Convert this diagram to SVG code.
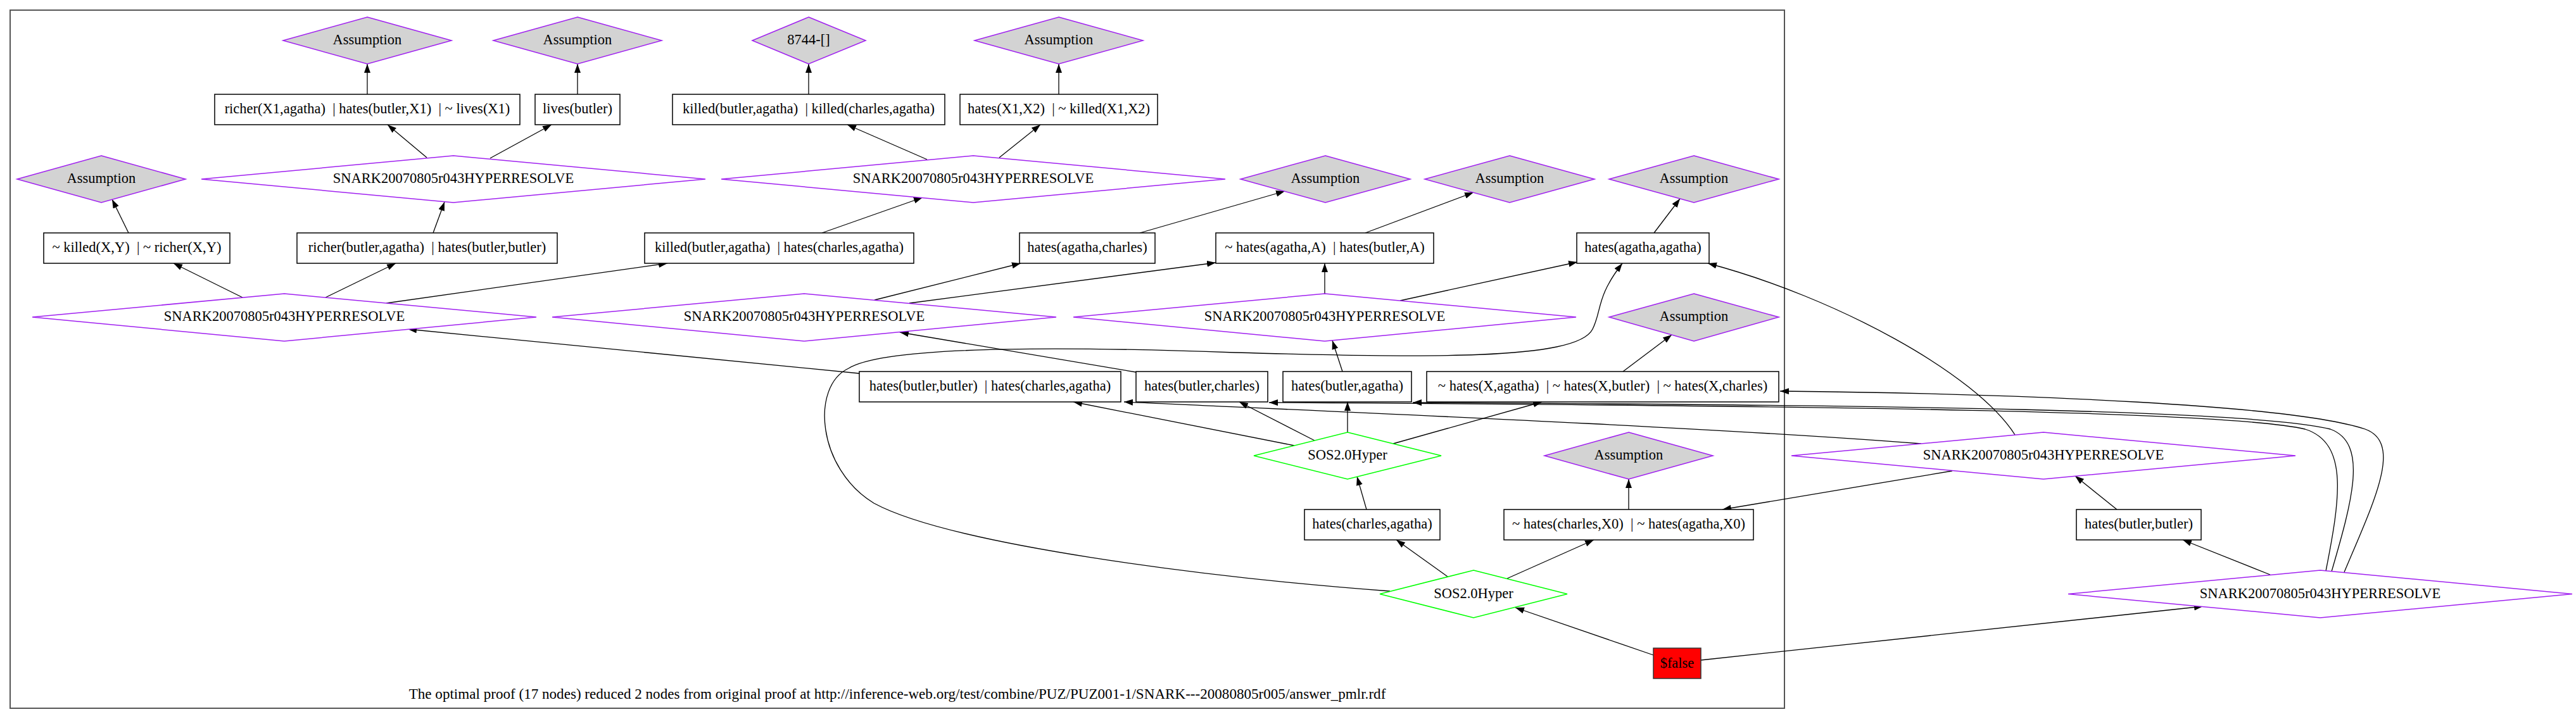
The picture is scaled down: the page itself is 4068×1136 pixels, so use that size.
<svg xmlns="http://www.w3.org/2000/svg" width="4068" height="1136" viewBox="0 0 4068 1136">
<style>
.bg{fill:#fff}
.frame{fill:none;stroke:#555;stroke-width:2}
.box{fill:#fff;stroke:#000;stroke-width:1.5}
.fal{fill:#f00;stroke:#333;stroke-width:1.5}
.asm{fill:#d3d3d3;stroke:#a020f0;stroke-width:1.5}
.hyp{fill:#fff;stroke:#a020f0;stroke-width:1.5}
.sos{fill:#fff;stroke:#00ff00;stroke-width:1.5}
text{font-family:"Liberation Serif","Times New Roman",serif;font-size:22.5px;text-anchor:middle;fill:#000;white-space:pre}
.cap{font-size:23.1px}
.e path{fill:none;stroke:#000;stroke-width:1.3}
</style>
<defs>
<marker id="ah" markerWidth="16" markerHeight="12" refX="14" refY="5" orient="auto" markerUnits="userSpaceOnUse"><path d="M0,0 L14,5 L0,10 z" fill="#000"/></marker>
</defs>
<rect class="bg" x="0" y="0" width="4068" height="1136"/>
<rect class="frame" x="16" y="16" width="2802" height="1103"/>
<text class="cap" x="1417" y="1104">The optimal proof (17 nodes) reduced 2 nodes from original proof at http://inference-web.org/test/combine/PUZ/PUZ001-1/SNARK---20080805r005/answer_pmlr.rdf</text>

<g class="e" id="edges">
<path d="M580,149 L580,101" marker-end="url(#ah)"/>
<path d="M912,149 L912,101" marker-end="url(#ah)"/>
<path d="M1277,149 L1277,101" marker-end="url(#ah)"/>
<path d="M1672,149 L1672,101" marker-end="url(#ah)"/>
<path d="M674,249 L612,197" marker-end="url(#ah)"/>
<path d="M774,250 L871,197" marker-end="url(#ah)"/>
<path d="M1464,252 L1338,197" marker-end="url(#ah)"/>
<path d="M1578,249 L1643,197" marker-end="url(#ah)"/>
<path d="M203,368 L177,315" marker-end="url(#ah)"/>
<path d="M684,368 L702,319" marker-end="url(#ah)"/>
<path d="M1298,368 L1457,312" marker-end="url(#ah)"/>
<path d="M1800,368 L2029,302" marker-end="url(#ah)"/>
<path d="M2156,368 L2327,304" marker-end="url(#ah)"/>
<path d="M2612,368 L2653,314" marker-end="url(#ah)"/>
<path d="M383,470 L274,416" marker-end="url(#ah)"/>
<path d="M514,470 L625,416" marker-end="url(#ah)"/>
<path d="M610,479 L1054,416" marker-end="url(#ah)"/>
<path d="M1381,474 L1612,416" marker-end="url(#ah)"/>
<path d="M1436,479 L1920,415" marker-end="url(#ah)"/>
<path d="M2092,464 L2092,416" marker-end="url(#ah)"/>
<path d="M2211,475 L2491,414" marker-end="url(#ah)"/>
<path d="M1357,590 L644,520" marker-end="url(#ah)"/>
<path d="M1794,588 L1421,525" marker-end="url(#ah)"/>
<path d="M2120,587 L2104,538" marker-end="url(#ah)"/>
<path d="M2563,587 L2640,529" marker-end="url(#ah)"/>
<path d="M2044,704 L1695,635" marker-end="url(#ah)"/>
<path d="M2076,696 L1957,635" marker-end="url(#ah)"/>
<path d="M2128,683 L2128,635" marker-end="url(#ah)"/>
<path d="M2200,701 L2435,635" marker-end="url(#ah)"/>
<path d="M2158,805 L2143,753" marker-end="url(#ah)"/>
<path d="M2572,805 L2572,757" marker-end="url(#ah)"/>
<path d="M3182,687 C3120,590 2900,470 2697,416" marker-end="url(#ah)"/>
<path d="M3083,744 L2720,805" marker-end="url(#ah)"/>
<path d="M3343,805 L3277,752" marker-end="url(#ah)"/>
<path d="M3585,908 L3447,853" marker-end="url(#ah)"/>
<path d="M2611,1035 L2393,960" marker-end="url(#ah)"/>
<path d="M2686,1043 L3479,958" marker-end="url(#ah)"/>
<path d="M2286,911 L2205,853" marker-end="url(#ah)"/>
<path d="M2380,914 L2517,853" marker-end="url(#ah)"/>
<path d="M2195,934 C1900,912 1500,860 1380,795 C1290,740 1280,610 1340,582 C1400,545 1700,548 1950,557 C2250,565 2490,570 2515,520 C2530,490 2520,470 2562,416" marker-end="url(#ah)"/>
<path d="M3702,904 C3750,790 3795,700 3735,678 C3620,640 3200,622 2811,618" marker-end="url(#ah)"/>
<path d="M3682,903 C3715,790 3740,700 3680,678 C3560,648 3000,640 2231,636" marker-end="url(#ah)"/>
<path d="M3673,902 C3695,790 3710,700 3640,678 C3520,650 2900,641 2004,636" marker-end="url(#ah)"/>
<path d="M3034,701 C2700,675 2100,650 1775,635" marker-end="url(#ah)"/>
</g>

<g id="n_a1"><polygon class="asm" points="580,27 713,64 580,101 447,64"/><text x="580" y="70">Assumption</text></g>
<g id="n_a2"><polygon class="asm" points="912,27 1045,64 912,101 779,64"/><text x="912" y="70">Assumption</text></g>
<g id="n_8744"><polygon class="asm" points="1277,27 1367,64 1277,101 1188,64"/><text x="1277" y="70">8744-[]</text></g>
<g id="n_a3"><polygon class="asm" points="1672,27 1805,64 1672,101 1539,64"/><text x="1672" y="70">Assumption</text></g>

<g id="n_b1"><rect class="box" x="339" y="149" width="482" height="48"/><text x="580" y="179">richer(X1,agatha)  | hates(butler,X1)  | ~ lives(X1)</text></g>
<g id="n_b2"><rect class="box" x="845" y="149" width="134" height="48"/><text x="912" y="179">lives(butler)</text></g>
<g id="n_b3"><rect class="box" x="1062" y="149" width="430" height="48"/><text x="1277" y="179">killed(butler,agatha)  | killed(charles,agatha)</text></g>
<g id="n_b4"><rect class="box" x="1516" y="149" width="312" height="48"/><text x="1672" y="179">hates(X1,X2)  | ~ killed(X1,X2)</text></g>

<g id="n_a4"><polygon class="asm" points="160,246 293,283 160,320 27,283"/><text x="160" y="289">Assumption</text></g>
<g id="n_h1"><polygon class="hyp" points="716,246 1114,283 716,320 318,283"/><text x="716" y="289">SNARK20070805r043HYPERRESOLVE</text></g>
<g id="n_h2"><polygon class="hyp" points="1537,246 1935,283 1537,320 1139,283"/><text x="1537" y="289">SNARK20070805r043HYPERRESOLVE</text></g>
<g id="n_a5"><polygon class="asm" points="2093,246 2227,283 2093,320 1959,283"/><text x="2093" y="289">Assumption</text></g>
<g id="n_a6"><polygon class="asm" points="2384,246 2518,283 2384,320 2250,283"/><text x="2384" y="289">Assumption</text></g>
<g id="n_a7"><polygon class="asm" points="2675,246 2809,283 2675,320 2541,283"/><text x="2675" y="289">Assumption</text></g>

<g id="n_b5"><rect class="box" x="69" y="368" width="294" height="48"/><text x="216" y="398">~ killed(X,Y)  | ~ richer(X,Y)</text></g>
<g id="n_b6"><rect class="box" x="469" y="368" width="411" height="48"/><text x="674.5" y="398">richer(butler,agatha)  | hates(butler,butler)</text></g>
<g id="n_b7"><rect class="box" x="1018" y="368" width="425" height="48"/><text x="1230.5" y="398">killed(butler,agatha)  | hates(charles,agatha)</text></g>
<g id="n_b8"><rect class="box" x="1610" y="368" width="214" height="48"/><text x="1717" y="398">hates(agatha,charles)</text></g>
<g id="n_b9"><rect class="box" x="1920" y="368" width="344" height="48"/><text x="2092" y="398">~ hates(agatha,A)  | hates(butler,A)</text></g>
<g id="n_b10"><rect class="box" x="2490" y="368" width="209" height="48"/><text x="2594.5" y="398">hates(agatha,agatha)</text></g>

<g id="n_h3"><polygon class="hyp" points="449,464 847,501 449,539 51,501"/><text x="449" y="507">SNARK20070805r043HYPERRESOLVE</text></g>
<g id="n_h4"><polygon class="hyp" points="1270,464 1668,501 1270,539 872,501"/><text x="1270" y="507">SNARK20070805r043HYPERRESOLVE</text></g>
<g id="n_h5"><polygon class="hyp" points="2092,464 2489,501 2092,539 1695,501"/><text x="2092" y="507">SNARK20070805r043HYPERRESOLVE</text></g>
<g id="n_a8"><polygon class="asm" points="2675,464 2809,501 2675,539 2541,501"/><text x="2675" y="507">Assumption</text></g>

<g id="n_b11"><rect class="box" x="1357" y="587" width="413" height="48"/><text x="1563.5" y="617">hates(butler,butler)  | hates(charles,agatha)</text></g>
<g id="n_b12"><rect class="box" x="1794" y="587" width="208" height="48"/><text x="1898" y="617">hates(butler,charles)</text></g>
<g id="n_b13"><rect class="box" x="2026" y="587" width="203" height="48"/><text x="2127.5" y="617">hates(butler,agatha)</text></g>
<g id="n_b14"><rect class="box" x="2253" y="587" width="556" height="48"/><text x="2531" y="617">~ hates(X,agatha)  | ~ hates(X,butler)  | ~ hates(X,charles)</text></g>

<g id="n_s1"><polygon class="sos" points="2128,683 2276,720 2128,757 1980,720"/><text x="2128" y="726">SOS2.0Hyper</text></g>
<g id="n_a9"><polygon class="asm" points="2572,683 2705,720 2572,757 2439,720"/><text x="2572" y="726">Assumption</text></g>
<g id="n_h6"><polygon class="hyp" points="3227,683 3625,720 3227,757 2829,720"/><text x="3227" y="726">SNARK20070805r043HYPERRESOLVE</text></g>

<g id="n_b15"><rect class="box" x="2060" y="805" width="214" height="48"/><text x="2167" y="835">hates(charles,agatha)</text></g>
<g id="n_b16"><rect class="box" x="2375" y="805" width="394" height="48"/><text x="2572" y="835">~ hates(charles,X0)  | ~ hates(agatha,X0)</text></g>
<g id="n_b17"><rect class="box" x="3279" y="805" width="197" height="48"/><text x="3377.5" y="835">hates(butler,butler)</text></g>

<g id="n_s2"><polygon class="sos" points="2327,901 2475,938.5 2327,976 2179,938.5"/><text x="2327" y="945">SOS2.0Hyper</text></g>
<g id="n_h7"><polygon class="hyp" points="3664,901 4062,938.5 3664,976 3266,938.5"/><text x="3664" y="945">SNARK20070805r043HYPERRESOLVE</text></g>

<g id="n_false"><rect class="fal" x="2611" y="1024" width="75" height="48"/><text x="2648.5" y="1055">$false</text></g>
</svg>
